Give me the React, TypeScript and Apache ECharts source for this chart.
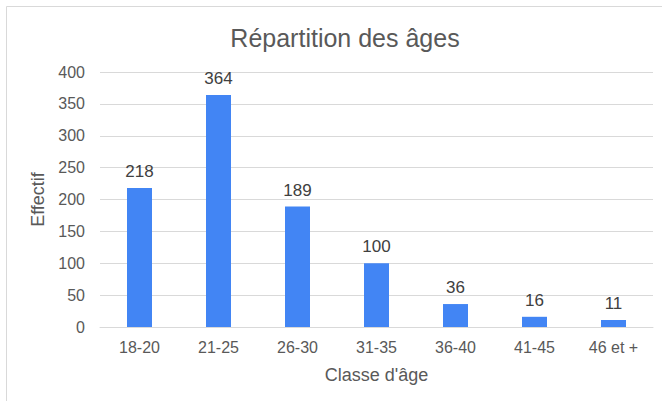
import React, { useEffect, useRef } from "react";
import * as echarts from "echarts";

const categories = ["18-20", "21-25", "26-30", "31-35", "36-40", "41-45", "46 et +"];
const effectifs = [218, 364, 189, 100, 36, 16, 11];
const yTicks = { min: 0, max: 400, interval: 50 };

export default function App() {
  const ref = useRef<HTMLDivElement>(null);
  useEffect(() => {
    document.body.style.margin = "0";
    const chart = echarts.init(ref.current!, null, { renderer: "svg" });
    const font = "Liberation Sans, Arial, sans-serif";
    chart.setOption({
      animation: false,
      textStyle: { fontFamily: font },
      title: {
        text: "Répartition des âges",
        left: 340,
        top: 20,
        textAlign: "center",
        textStyle: { fontSize: 25, fontWeight: "normal", color: "#595959", fontFamily: font },
      },
      graphic: [
        {
          type: "rect",
          shape: { x: 6.5, y: 6.5, width: 700, height: 420 },
          style: { fill: "none", stroke: "#d9d9d9", lineWidth: 1 },
          silent: true,
        },
      ],
      grid: { left: 100, right: 9, top: 72, bottom: 74, containLabel: false },
      xAxis: {
        type: "category",
        data: categories,
        name: "Classe d'âge",
        nameLocation: "middle",
        nameGap: 39,
        nameTextStyle: { fontSize: 18, color: "#595959", fontFamily: font },
        axisLine: { show: true, lineStyle: { color: "#d9d9d9" } },
        axisTick: { show: false },
        axisLabel: { fontSize: 16, color: "#595959", margin: 12, fontFamily: font },
      },
      yAxis: {
        type: "value",
        min: yTicks.min,
        max: yTicks.max,
        interval: yTicks.interval,
        name: "Effectif",
        nameLocation: "middle",
        nameGap: 51,
        nameTextStyle: { fontSize: 18, color: "#595959", fontFamily: font },
        axisLine: { show: false },
        axisTick: { show: false },
        axisLabel: { fontSize: 16, color: "#595959", margin: 15, fontFamily: font },
        splitLine: { lineStyle: { color: "#d9d9d9" } },
      },
      series: [
        {
          type: "bar",
          data: effectifs,
          barWidth: 25,
          itemStyle: { color: "#4285F4" },
          label: {
            show: true,
            position: "top",
            distance: 8,
            fontSize: 17,
            color: "#404040",
            fontFamily: font,
          },
        },
      ],
    });
    return () => chart.dispose();
  }, []);
  return <div ref={ref} style={{ width: 662, height: 401 }} />;
}
